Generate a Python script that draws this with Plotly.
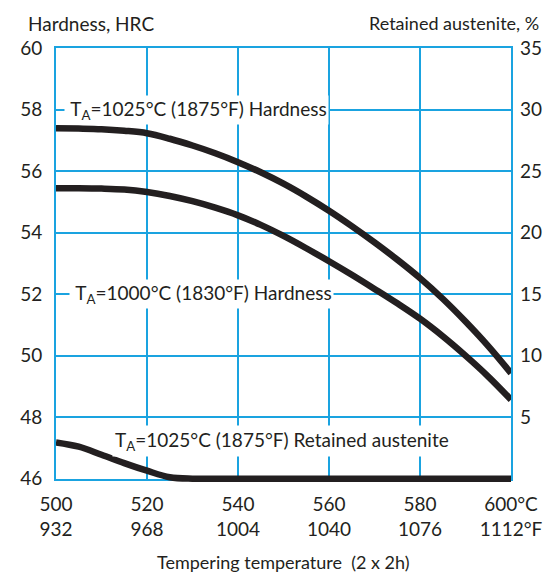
import plotly.graph_objects as go

# ---------------- data ----------------
temps = [500, 505, 510, 515, 520, 525, 530, 535, 540, 545, 550,
         555, 560, 565, 570, 575, 580, 585, 590, 595, 600]
hard_1025 = [57.39, 57.38, 57.36, 57.31, 57.23, 57.05, 56.83, 56.58, 56.29, 55.96, 55.59,
             55.17, 54.71, 54.21, 53.68, 53.12, 52.52, 51.85, 51.11, 50.31, 49.43]
hard_1000 = [55.44, 55.44, 55.43, 55.40, 55.32, 55.19, 55.02, 54.81, 54.56, 54.25, 53.89,
             53.49, 53.07, 52.63, 52.17, 51.70, 51.20, 50.63, 50.00, 49.32, 48.57]

ra_temps = [500, 505, 510, 515, 520, 525, 530, 535, 540, 560, 580, 600]
ra_1025 = [2.95, 2.60, 1.95, 1.27, 0.65, 0.12, 0.0, 0.0, 0.0, 0.0, 0.0, 0.0]

x_ticks = [500, 520, 540, 560, 580, 600]
x_ticktext = ["500<br>932", "520<br>968", "540<br>1004", "560<br>1040", "580<br>1076", "600°C<br>1112°F"]
hrc_ticks = [46, 48, 50, 52, 54, 56, 58, 60]
ra_ticks = [5, 10, 15, 20, 25, 30, 35]

# ---------------- style ----------------
OFF = 8                      # default page margin of the html body
W, H = 555 - OFF, 574 - OFF
BLUE = "#1aa3e0"
INK = "#231f20"
FONT = "Lato"

# plot frame in window pixels
top_px, bottom_px, left_px, right_px = 48 - OFF, 479 - OFF, 47 - OFF, 514 - OFF
frame_h = bottom_px - top_px
ext = frame_h / 35.0  # one RA unit of extra room so the curve at 0 is not clipped
area_h = frame_h + ext
d0 = ext / area_h
m_b = H - bottom_px - ext

fig = go.Figure()

line_style = dict(color=INK, width=6.5, shape="spline", smoothing=1.0)
fig.add_trace(go.Scatter(x=temps, y=hard_1025, mode="lines", line=line_style,
                         xaxis="x", yaxis="y", showlegend=False, hoverinfo="skip"))
fig.add_trace(go.Scatter(x=temps, y=hard_1000, mode="lines", line=line_style,
                         xaxis="x", yaxis="y", showlegend=False, hoverinfo="skip"))
fig.add_trace(go.Scatter(x=ra_temps, y=ra_1025, mode="lines", line=line_style,
                         xaxis="x2", yaxis="y3", showlegend=False, hoverinfo="skip"))

tickfont = dict(family=FONT, size=19, color=INK)

fig.update_layout(
    width=W, height=H,
    margin=dict(l=left_px, r=W - right_px, t=top_px, b=m_b, pad=0),
    paper_bgcolor="white", plot_bgcolor="rgba(0,0,0,0)",
    font=dict(family=FONT, color=INK),
    xaxis=dict(domain=[0, 1], range=[500, 600], anchor="y",
               tickmode="array", tickvals=x_ticks, ticktext=x_ticktext,
               tickfont=tickfont, showgrid=True, gridcolor=BLUE, gridwidth=2,
               showline=True, linecolor=BLUE, linewidth=2, mirror=True,
               zeroline=False, ticks="", ticklabelstandoff=8, layer="below traces"),
    yaxis=dict(domain=[d0, 1], range=[46, 60], anchor="x",
               tickmode="array", tickvals=hrc_ticks,
               tickfont=tickfont, showgrid=True, gridcolor=BLUE, gridwidth=2,
               showline=True, linecolor=BLUE, linewidth=2, mirror=True,
               zeroline=False, ticks="", ticklabelstandoff=8, layer="below traces"),
    xaxis2=dict(domain=[0, 1], range=[500, 600], anchor="y3", visible=False,
                showgrid=False, zeroline=False),
    yaxis3=dict(domain=[0, 1], range=[-1, 35], anchor="x2", side="right",
                tickmode="array", tickvals=ra_ticks, tickfont=tickfont,
                showgrid=False, showline=False, zeroline=False, ticks="",
                ticklabelstandoff=8),
)

ann_font = dict(family=FONT, size=19, color=INK)
fig.add_annotation(x=501.7, y=58, xref="x", yref="y", xanchor="left", yanchor="middle",
                   text=" T<sub>A</sub>=1025°C (1875°F) Hardness", showarrow=False,
                   font=ann_font, bgcolor="white", borderpad=1)
fig.add_annotation(x=502.8, y=52, xref="x", yref="y", xanchor="left", yanchor="middle",
                   text=" T<sub>A</sub>=1000°C (1830°F) Hardness", showarrow=False,
                   font=ann_font, bgcolor="white", borderpad=1)
fig.add_annotation(x=549.7, y=47.24, xref="x", yref="y", xanchor="center", yanchor="middle",
                   text="T<sub>A</sub>=1025°C (1875°F) Retained austenite", showarrow=False,
                   font=ann_font, bgcolor="white", borderpad=2)

fig.add_annotation(x=0, y=1, xref="paper", yref="paper", xanchor="left", yanchor="middle",
                   xshift=-30, yshift=25, text="Hardness, HRC", showarrow=False,
                   font=dict(family=FONT, size=19, color=INK))
fig.add_annotation(x=1, y=1, xref="paper", yref="paper", xanchor="right", yanchor="middle",
                   xshift=30, yshift=25, text="Retained austenite, %", showarrow=False,
                   font=dict(family=FONT, size=18, color=INK))
fig.add_annotation(x=0.5, y=0, xref="paper", yref="paper", xanchor="center", yanchor="middle",
                   yshift=-(562 - OFF - (bottom_px + ext)), text="Tempering temperature  (2 x 2h)",
                   showarrow=False, font=dict(family=FONT, size=18, color=INK))

fig.write_html("out.html")
